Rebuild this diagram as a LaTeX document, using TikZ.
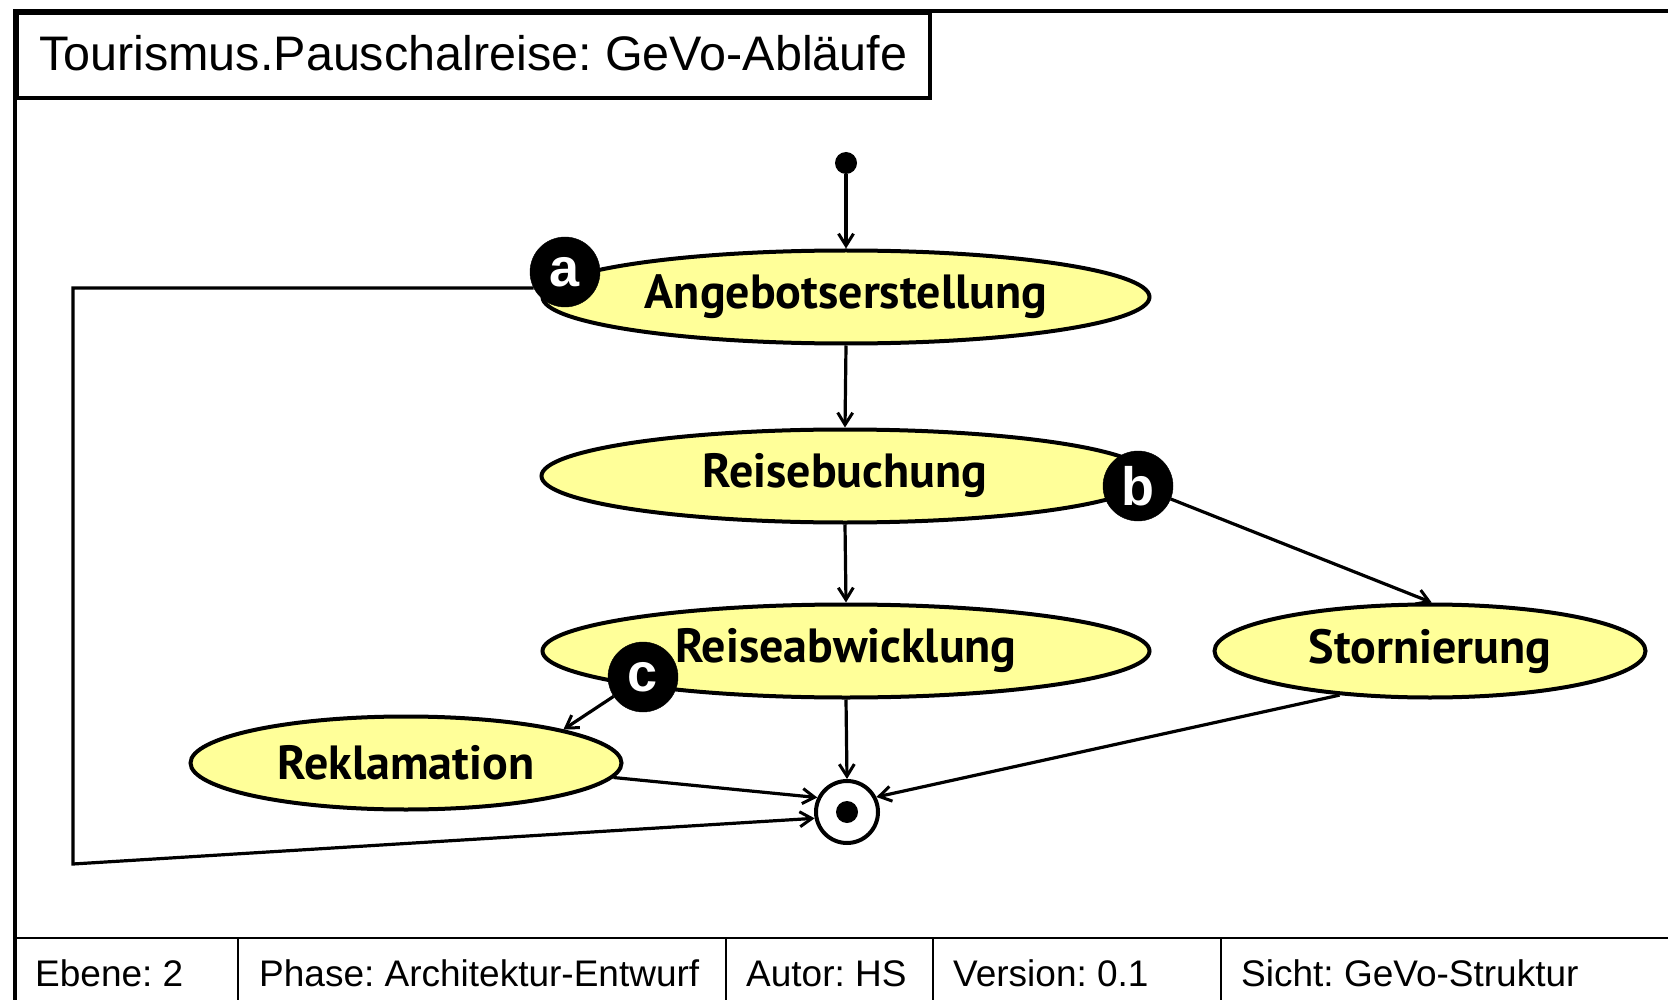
\documentclass[tikz,border=0pt]{standalone}
\usepackage{fontspec}
\setmainfont{Liberation Sans}
\newfontfamily\statefont{PT Sans}
\usetikzlibrary{arrows.meta,shapes.geometric}
\definecolor{stateyellow}{HTML}{FFFF99}
\frenchspacing

\begin{document}
\begin{tikzpicture}[x=1pt,y=-1pt,
  frameline/.style={line width=4pt},
  thinline/.style={line width=1.6pt},
  statebox/.style={ellipse, draw, line width=4pt, fill=stateyellow, inner sep=0pt,
    minimum width=607pt, minimum height=93pt,
    font=\statefont\bfseries\fontsize{48}{48}\selectfont},
  smallstate/.style={statebox, minimum width=431pt},
  badge/.style={circle, fill=black, draw=black, minimum size=70pt, inner sep=0pt,
    text=white, font=\bfseries\fontsize{54}{54}\selectfont},
  flow/.style={line width=3.2pt, -{Straight Barb[length=12pt,width=15pt,line width=3pt]}},
  foot/.style={anchor=base west, inner sep=0pt, font=\fontsize{37}{37}\selectfont}]

\useasboundingbox (0,0) rectangle (1668,1000);

% frame and title tab
\draw[frameline] (15,1002) -- (15,11) -- (1670,11);
\node[draw, frameline, minimum width=913pt, minimum height=85pt, anchor=north west, inner sep=0pt] (titlebox) at (15,11) {};
\node[anchor=base west, inner sep=0pt, font=\fontsize{48.5}{48.5}\selectfont] (title) at (39,71) {Tourismus.Pauschalreise: GeVo-Abläufe};

% footer bar
\draw[thinline] (15,938) -- (1670,938);
\foreach \x in {238,726,933,1221} \draw[thinline] (\x,938) -- (\x,1002);
\node[foot] (f1) at (35,986) {Ebene: 2};
\node[foot] (f2) at (259,986) {Phase: Architektur-Entwurf};
\node[foot] (f3) at (746,986) {Autor: HS};
\node[foot] (f4) at (953,986) {Version: 0.1};
\node[foot] (f5) at (1241,986) {Sicht: GeVo-Struktur};

% start and end states
\node[circle, fill=black, minimum size=22pt, inner sep=0pt] (start) at (846,163) {};
\node[circle, draw, line width=4pt, fill=white, minimum size=62pt, inner sep=0pt] (endc) at (847,812) {};
\node[circle, fill=black, minimum size=22pt, inner sep=0pt] (enddot) at (endc) {};

% activities
\node[statebox] (angebot) at (846,297) {Angebotserstellung};
\node[statebox] (buchung) at (845,476) {Reisebuchung};
\node[statebox] (abwicklung) at (846,651) {Reiseabwicklung};
\node[smallstate] (storno) at (1430,651) {Stornierung};
\node[smallstate] (reklamation) at (406,763) {Reklamation};

% markers
\node[badge] (a) at (565,272) {a};
\node[badge] (b) at (1138,486) {b};
\node[badge] (c) at (643,677) {c};

% transitions
\draw[flow] (start) -- (angebot.north);
\draw[flow] (angebot.south) -- (buchung.north);
\draw[flow] (buchung.south) -- (abwicklung.north);
\draw[flow] (abwicklung.south) -- (endc.north);
\draw[flow] (b) -- (storno.88);
\draw[flow] (c) -- (reklamation.12);
\draw[flow] (reklamation.-4) -- (endc.154);
\draw[flow] (storno.206) -- (endc.27);
\coordinate (loopbl) at (73,864);
\draw[flow] (a.207) -- (a.207 -| loopbl) -- (loopbl) -- (endc.191);
\end{tikzpicture}
\end{document}
